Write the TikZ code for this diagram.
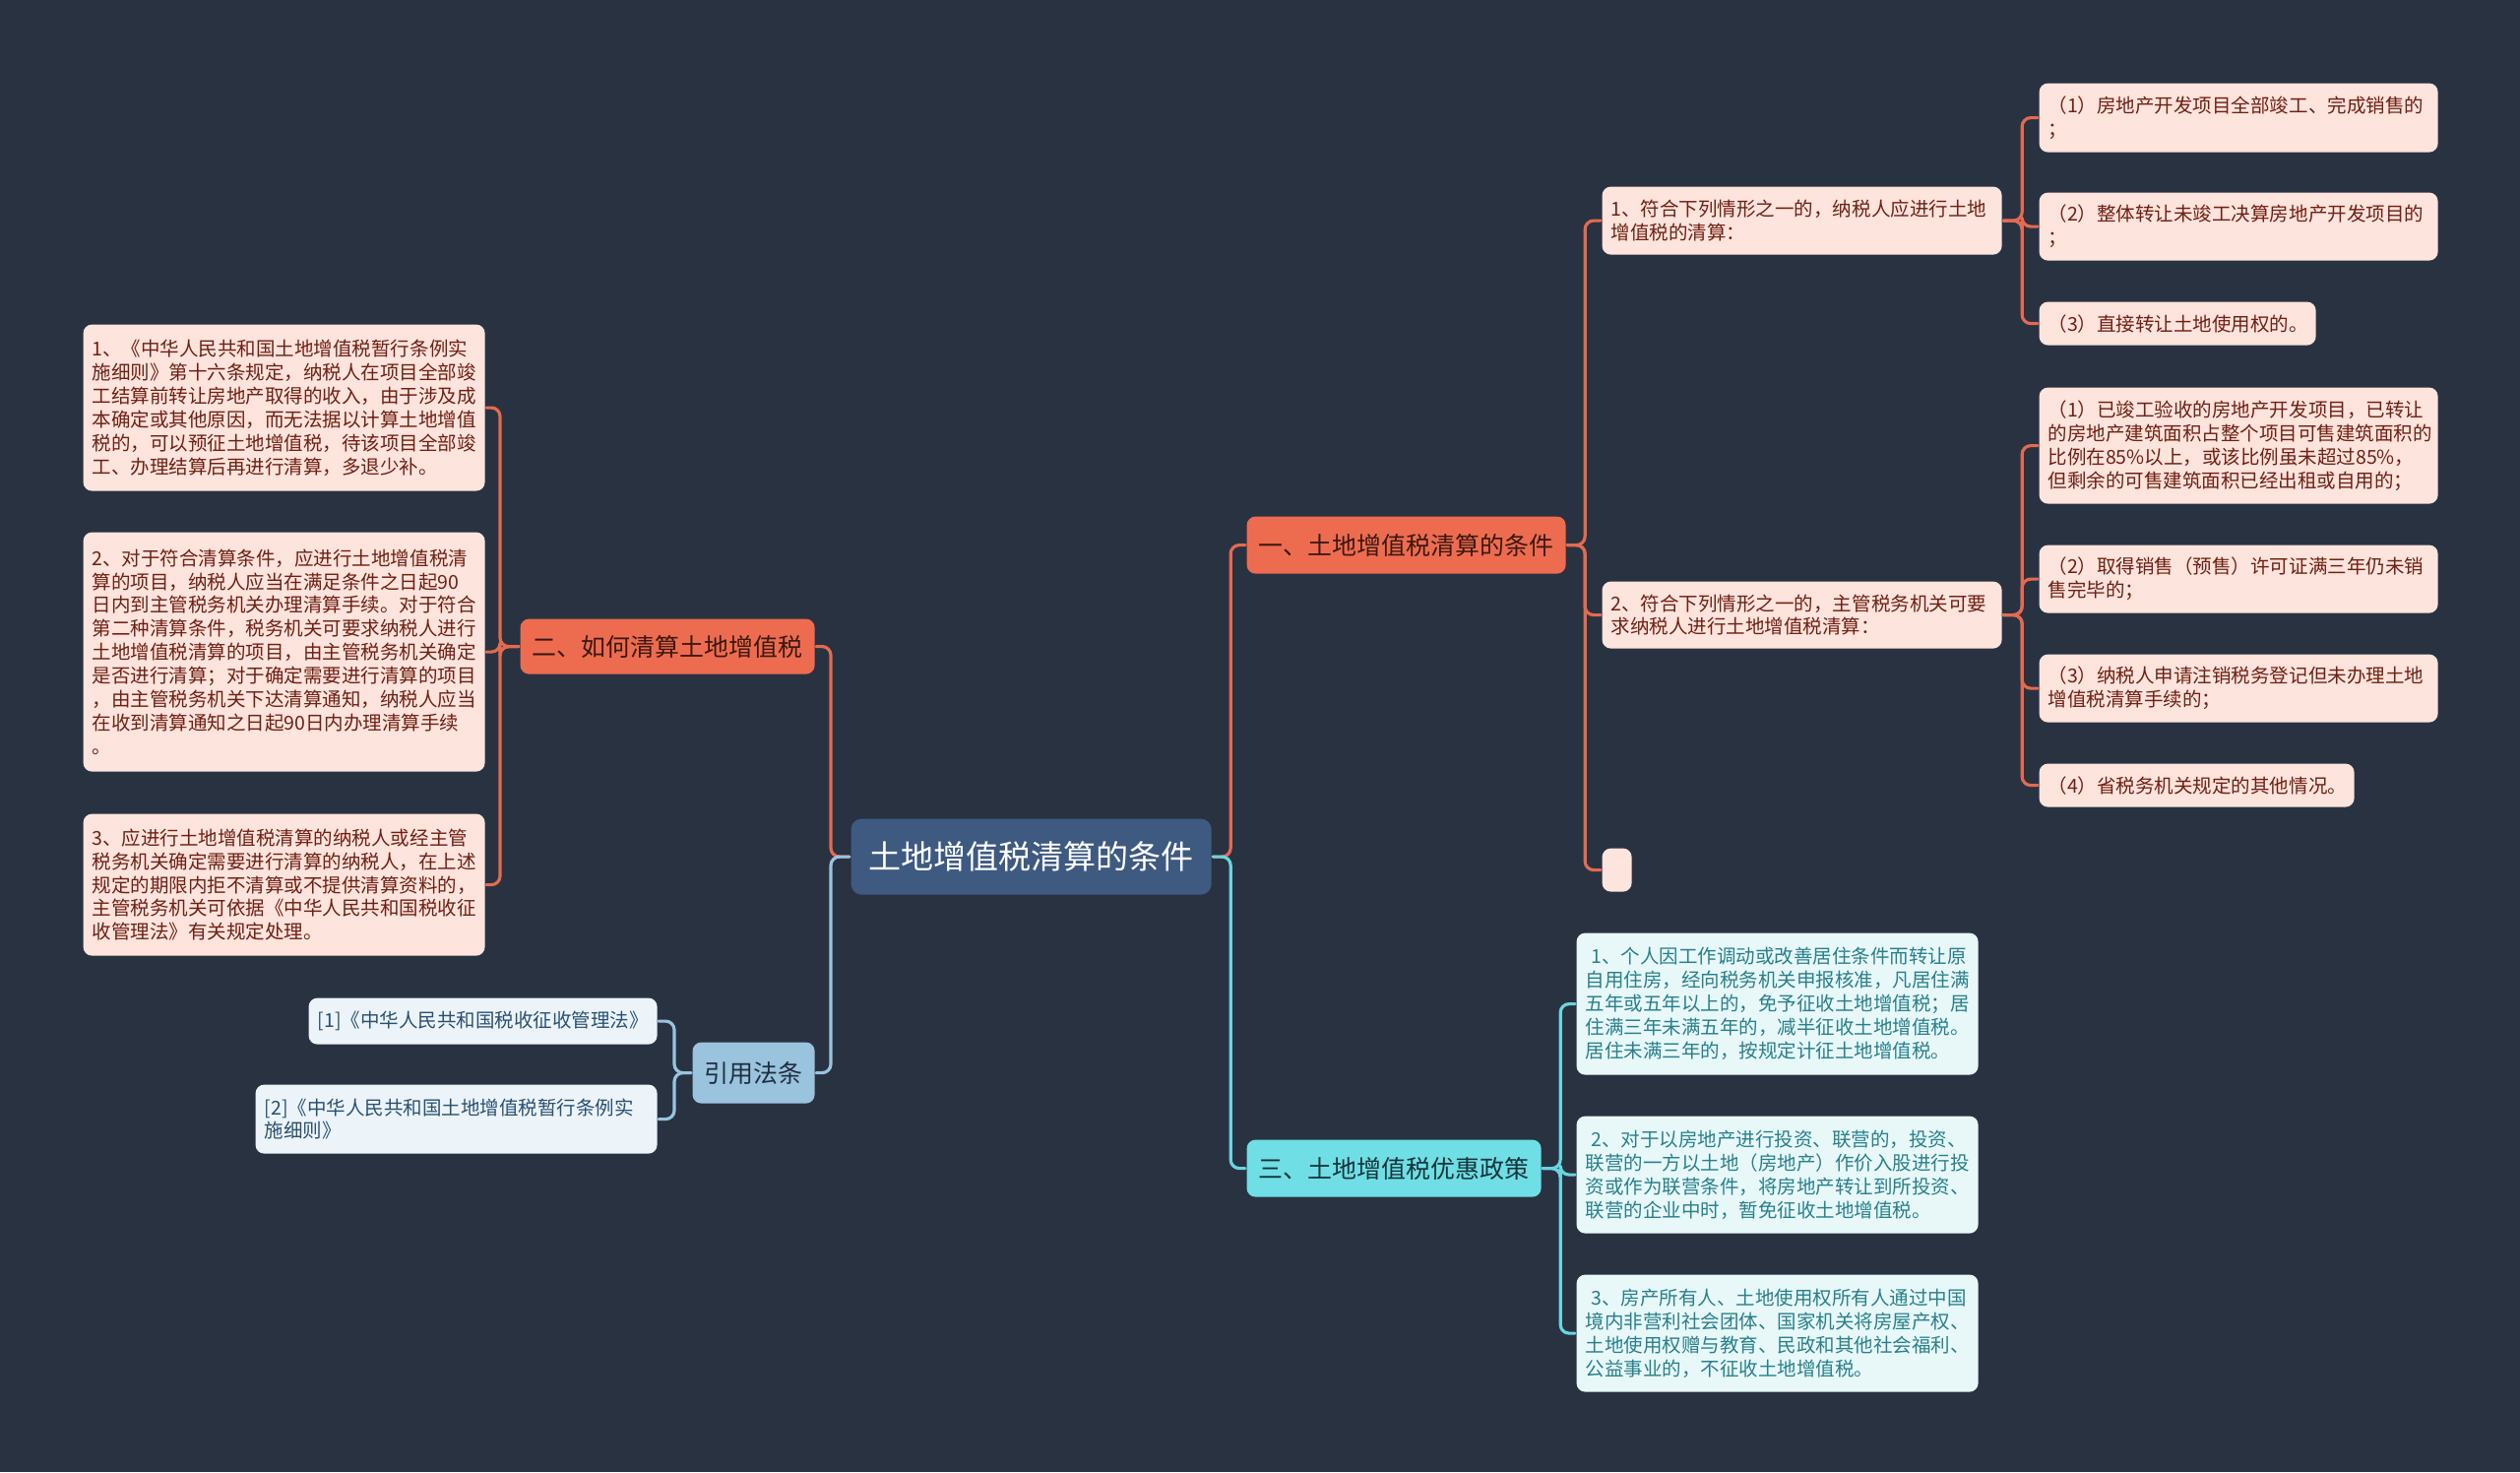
\documentclass[tikz,border=0pt]{standalone}
\usepackage{fontspec}
\setmainfont{Noto Sans CJK SC}
\definecolor{bgdark}{RGB}{41,50,65}
\definecolor{rootblue}{RGB}{62,90,128}
\definecolor{orangefill}{RGB}{237,108,80}
\definecolor{orangeline}{RGB}{228,106,80}
\definecolor{orangetext}{RGB}{60,24,16}
\definecolor{pinkfill}{RGB}{253,228,220}
\definecolor{pinktext}{RGB}{110,32,20}
\definecolor{cyanfill}{RGB}{111,222,229}
\definecolor{cyanline}{RGB}{104,214,224}
\definecolor{cyantext}{RGB}{22,52,60}
\definecolor{cyanleaf}{RGB}{232,248,249}
\definecolor{cyanleaftext}{RGB}{40,128,138}
\definecolor{bluefill}{RGB}{154,195,221}
\definecolor{blueline}{RGB}{152,196,224}
\definecolor{bluetext}{RGB}{30,46,66}
\definecolor{blueleaf}{RGB}{236,244,249}
\definecolor{blueleaftext}{RGB}{42,80,112}
\tikzstyle{every path}=[line width=0.9pt, line cap=round, line join=round]
\tikzstyle{rootbox}=[fill=rootblue, text=white, rounded corners=3pt, inner sep=0pt, anchor=north west, font=\fontsize{9.4}{11}\selectfont]
\tikzstyle{orangebox}=[fill=orangefill, text=orangetext, rounded corners=2.5pt, inner sep=0pt, anchor=north west, font=\fontsize{7.1}{8.5}\selectfont]
\tikzstyle{cyanbox}=[orangebox, fill=cyanfill, text=cyantext]
\tikzstyle{bluebox}=[orangebox, fill=bluefill, text=bluetext]
\tikzstyle{pinkleaf}=[fill=pinkfill, text=pinktext, rounded corners=2.5pt, inner xsep=0.09cm, inner ysep=0pt, anchor=north west, align=left, font=\fontsize{5.55}{6.8}\selectfont]
\tikzstyle{cyanleafbox}=[pinkleaf, fill=cyanleaf, text=cyanleaftext]
\tikzstyle{blueleafbox}=[pinkleaf, fill=blueleaf, text=blueleaftext]
\tikzstyle{orangelink}=[orangeline, rounded corners=2.5pt]
\tikzstyle{cyanlink}=[cyanline, rounded corners=2.5pt]
\tikzstyle{bluelink}=[blueline, rounded corners=2.5pt]

\begin{document}
\begin{tikzpicture}
  % Background
  \useasboundingbox (0,0) rectangle (25.6,-14.95);
  \fill[bgdark] (0,0) rectangle (25.6,-14.95);

  % Root
  \node[rootbox, minimum width=3.66cm, minimum height=0.77cm] (root) at (8.63,-8.30) {土地增值税清算的条件};

  % Main branches
  \node[orangebox, minimum width=3.24cm, minimum height=0.58cm] (one) at (12.65,-5.23) {一、土地增值税清算的条件};
  \node[orangebox, minimum width=2.99cm, minimum height=0.56cm] (two) at (5.27,-6.27) {二、如何清算土地增值税};
  \node[cyanbox, minimum width=2.99cm, minimum height=0.58cm] (three) at (12.65,-11.56) {三、土地增值税优惠政策};
  \node[bluebox, minimum width=1.24cm, minimum height=0.62cm] (cite) at (7.02,-10.57) {引用法条};

  % Branch one: second level
  \node[pinkleaf, text width=3.88cm, minimum height=0.69cm] (oneA) at (16.26,-1.88) {1、符合下列情形之一的，纳税人应进行土地\\增值税的清算：};
  \node[pinkleaf, text width=3.88cm, minimum height=0.68cm] (oneB) at (16.26,-5.89) {2、符合下列情形之一的，主管税务机关可要\\求纳税人进行土地增值税清算：};
  \node[pinkleaf, text width=0.12cm, minimum height=0.44cm] (oneC) at (16.26,-8.60) {};

  % Branch one: third level
  \node[pinkleaf, text width=3.87cm, minimum height=0.70cm] (oneA1) at (20.70,-0.83) {（1）房地产开发项目全部竣工、完成销售的\\；};
  \node[pinkleaf, text width=3.87cm, minimum height=0.69cm] (oneA2) at (20.70,-1.94) {（2）整体转让未竣工决算房地产开发项目的\\；};
  \node[pinkleaf, text width=2.63cm, minimum height=0.44cm] (oneA3) at (20.70,-3.05) {（3）直接转让土地使用权的。};
  \node[pinkleaf, text width=3.87cm, minimum height=1.18cm] (oneB1) at (20.70,-3.92) {（1）已竣工验收的房地产开发项目，已转让\\的房地产建筑面积占整个项目可售建筑面积的\\比例在85\%以上，或该比例虽未超过85\%，\\但剩余的可售建筑面积已经出租或自用的；};
  \node[pinkleaf, text width=3.87cm, minimum height=0.69cm] (oneB2) at (20.70,-5.52) {（2）取得销售（预售）许可证满三年仍未销\\售完毕的；};
  \node[pinkleaf, text width=3.87cm, minimum height=0.69cm] (oneB3) at (20.70,-6.63) {（3）纳税人申请注销税务登记但未办理土地\\增值税清算手续的；};
  \node[pinkleaf, text width=3.02cm, minimum height=0.44cm] (oneB4) at (20.70,-7.74) {（4）省税务机关规定的其他情况。};

  % Branch two
  \node[pinkleaf, text width=3.90cm, minimum height=1.69cm] (twoA) at (0.83,-3.28) {1、《中华人民共和国土地增值税暂行条例实\\施细则》第十六条规定，纳税人在项目全部竣\\工结算前转让房地产取得的收入，由于涉及成\\本确定或其他原因，而无法据以计算土地增值\\税的，可以预征土地增值税，待该项目全部竣\\工、办理结算后再进行清算，多退少补。};
  \node[pinkleaf, text width=3.90cm, minimum height=2.43cm] (twoB) at (0.83,-5.39) {2、对于符合清算条件，应进行土地增值税清\\算的项目，纳税人应当在满足条件之日起90\\日内到主管税务机关办理清算手续。对于符合\\第二种清算条件，税务机关可要求纳税人进行\\土地增值税清算的项目，由主管税务机关确定\\是否进行清算；对于确定需要进行清算的项目\\，由主管税务机关下达清算通知，纳税人应当\\在收到清算通知之日起90日内办理清算手续\\。};
  \node[pinkleaf, text width=3.90cm, minimum height=1.44cm] (twoC) at (0.83,-8.25) {3、应进行土地增值税清算的纳税人或经主管\\税务机关确定需要进行清算的纳税人，在上述\\规定的期限内拒不清算或不提供清算资料的，\\主管税务机关可依据《中华人民共和国税收征\\收管理法》有关规定处理。};

  % Branch three
  \node[cyanleafbox, text width=3.90cm, minimum height=1.44cm] (threeA) at (16.00,-9.46) {\hspace{0.3em}1、个人因工作调动或改善居住条件而转让原\\自用住房，经向税务机关申报核准，凡居住满\\五年或五年以上的，免予征收土地增值税；居\\住满三年未满五年的，减半征收土地增值税。\\居住未满三年的，按规定计征土地增值税。};
  \node[cyanleafbox, text width=3.90cm, minimum height=1.19cm] (threeB) at (16.00,-11.32) {\hspace{0.3em}2、对于以房地产进行投资、联营的，投资、\\联营的一方以土地（房地产）作价入股进行投\\资或作为联营条件，将房地产转让到所投资、\\联营的企业中时，暂免征收土地增值税。};
  \node[cyanleafbox, text width=3.90cm, minimum height=1.19cm] (threeC) at (16.00,-12.93) {\hspace{0.3em}3、房产所有人、土地使用权所有人通过中国\\境内非营利社会团体、国家机关将房屋产权、\\土地使用权赠与教育、民政和其他社会福利、\\公益事业的，不征收土地增值税。};

  % Cited laws
  \node[blueleafbox, text width=3.36cm, minimum height=0.47cm] (citeA) at (3.12,-10.12) {[1]《中华人民共和国税收征收管理法》};
  \node[blueleafbox, text width=3.90cm, minimum height=0.70cm] (citeB) at (2.58,-11.00) {[2]《中华人民共和国土地增值税暂行条例实\\施细则》};

  % Connectors from root
  \draw[orangelink] (root.west) -- ++(-0.19,0) |- (two.east);
  \draw[bluelink] (root.west) -- ++(-0.19,0) |- (cite.east);
  \draw[orangelink] (root.east) -- ++(0.18,0) |- (one.west);
  \draw[cyanlink] (root.east) -- ++(0.18,0) |- (three.west);

  % Connectors of branch one
  \foreach \kid in {oneA,oneB,oneC}
    \draw[orangelink] (one.east) -- ++(0.18,0) |- (\kid.west);
  \foreach \kid in {oneA1,oneA2,oneA3}
    \draw[orangelink] (oneA.east) -- ++(0.19,0) |- (\kid.west);
  \foreach \kid in {oneB1,oneB2,oneB3,oneB4}
    \draw[orangelink] (oneB.east) -- ++(0.19,0) |- (\kid.west);

  % Connectors of branch two
  \foreach \kid in {twoA,twoB,twoC}
    \draw[orangelink] (two.west) -- ++(-0.19,0) |- (\kid.east);

  % Connectors of branch three
  \foreach \kid in {threeA,threeB,threeC}
    \draw[cyanlink] (three.east) -- ++(0.18,0) |- (\kid.west);

  % Connectors of cited laws
  \foreach \kid in {citeA,citeB}
    \draw[bluelink] (cite.west) -- ++(-0.17,0) |- (\kid.east);
\end{tikzpicture}
\end{document}
